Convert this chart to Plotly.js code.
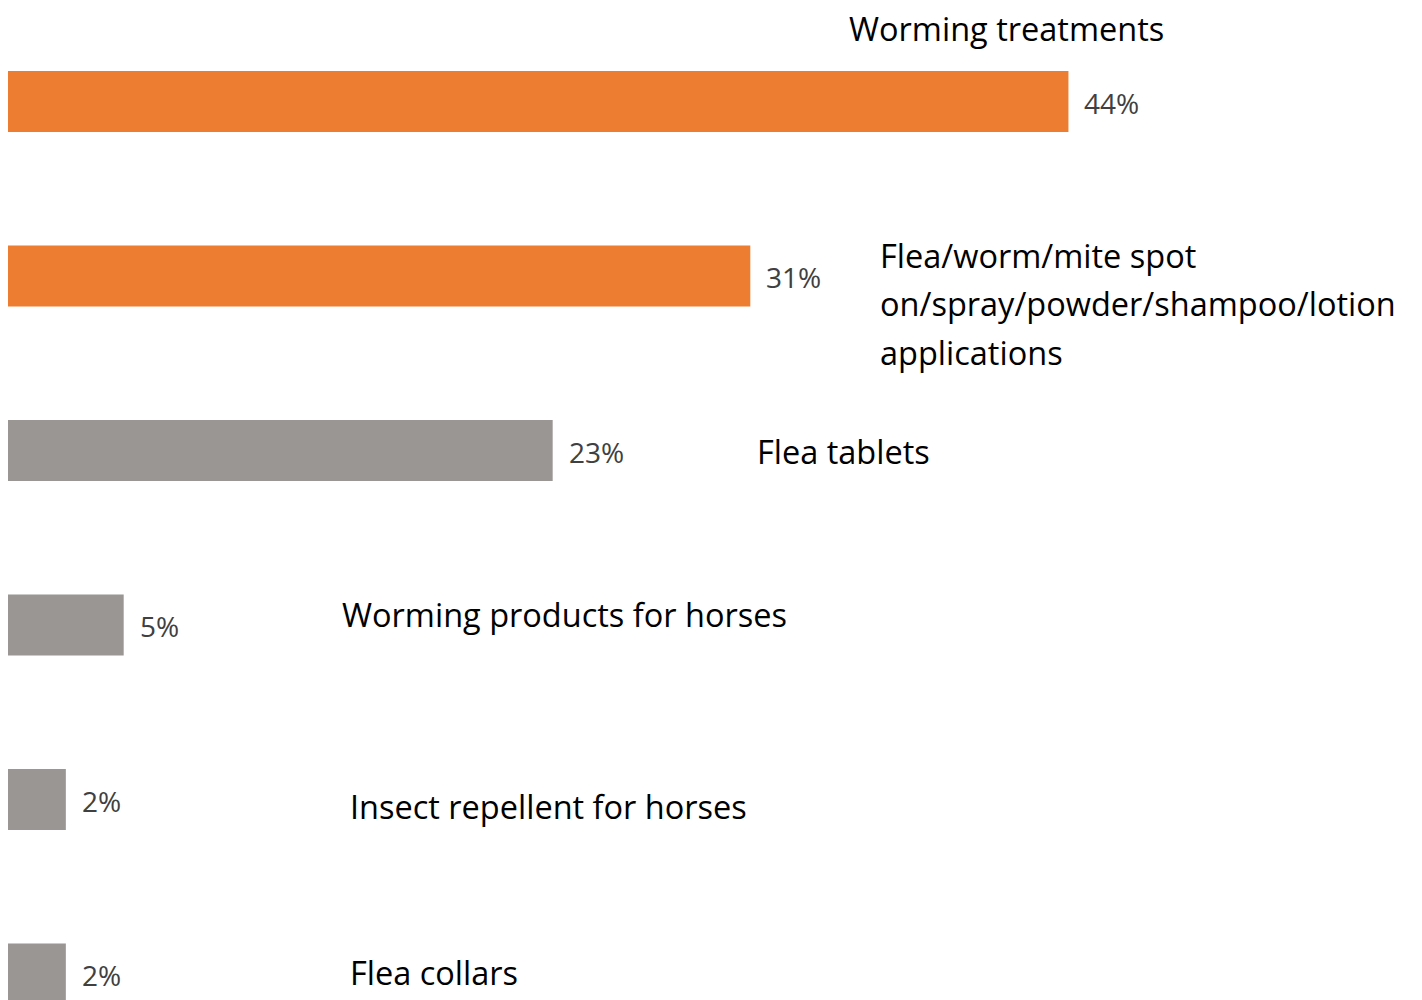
<!DOCTYPE html>
<html><head><meta charset="utf-8">
<script src="https://cdn.plot.ly/plotly-3.0.1.min.js"></script>
<style>html,body{margin:0;padding:0;background:#fff}#chart{width:1422px;height:1000px}</style>
</head><body><div id="chart"></div>
<script>
const categories = [
  "Worming treatments",
  "Flea/worm/mite spot<br>on/spray/powder/shampoo/lotion<br>applications",
  "Flea tablets",
  "Worming products for horses",
  "Insect repellent for horses",
  "Flea collars"
];
const values = [44.0, 30.8, 22.6, 4.8, 2.4, 2.4];
const valueLabels = ["44%", "31%", "23%", "5%", "2%", "2%"];
const barColors = ["#ED7D31", "#ED7D31", "#9A9694", "#9A9694", "#9A9694", "#9A9694"];

// label placement (pixels): left x, center y of first line
const labelPos = [[849, 28], [880, 255], [757, 452], [342, 614], [350, 806], [350, 972]];
const lineStep = 48.5;
const W = 1422, H = 1000;

const idx = categories.map((c, i) => i);
const trace = {
  type: 'bar', orientation: 'h',
  x: values, y: idx,
  width: 0.35,
  marker: {color: barColors},
  hoverinfo: 'none'
};

const annotations = [];
values.forEach((v, i) => {
  annotations.push({
    x: v, y: i, xref: 'x', yref: 'y', text: valueLabels[i],
    showarrow: false, xanchor: 'left', yanchor: 'middle', xshift: 14, yshift: -1,
    font: {family: 'Open Sans', size: 28, color: '#404040'}
  });
});
categories.forEach((c, i) => {
  c.split('<br>').forEach((line, j) => {
    annotations.push({
      x: labelPos[i][0] / W, y: 1 - (labelPos[i][1] + j * lineStep) / H,
      xref: 'paper', yref: 'paper', text: line,
      showarrow: false, xanchor: 'left', yanchor: 'middle', xshift: -2,
      font: {family: 'Open Sans', size: 32.5, color: '#000000'}
    });
  });
});

const layout = {
  width: W, height: H,
  margin: {l: 0, r: 0, t: 0, b: 0},
  paper_bgcolor: '#ffffff', plot_bgcolor: '#ffffff',
  showlegend: false,
  xaxis: {range: [-0.332, 58.67], visible: false, fixedrange: true},
  yaxis: {range: [5.149, -0.582], visible: false, fixedrange: true},
  annotations: annotations
};
Plotly.newPlot('chart', [trace], layout, {displayModeBar: false, staticPlot: true});
</script></body></html>
